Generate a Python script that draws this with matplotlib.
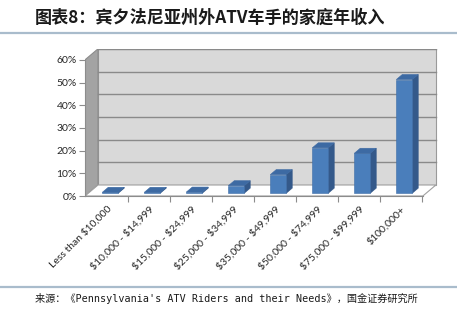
import matplotlib
matplotlib.use("Agg")
import matplotlib.pyplot as plt
from matplotlib.patches import Polygon
from matplotlib.lines import Line2D
import numpy as np

categories = ["Less than $10,000", "$10,000 - $14,999", "$15,000 - $24,999",
              "$25,000 - $34,999", "$35,000 - $49,999", "$50,000 - $74,999",
              "$75,000 - $99,999", "$100,000+"]
values = [0.4, 0.4, 0.5, 3.3, 8.2, 20.0, 17.6, 50.1]
yticks = [0, 10, 20, 30, 40, 50, 60]
ytick_labels = ["0%", "10%", "20%", "30%", "40%", "50%", "60%"]
title = "图表8：宾夕法尼亚州外ATV车手的家庭年收入"
source = "来源：《Pennsylvania's ATV Riders and their Needs》，国金证券研究所"

W, H = 457, 316
fig = plt.figure(figsize=(W / 100, H / 100), dpi=100)

# pseudo-3D geometry (data units)
ddx, ddy = 0.31, 4.85     # full depth offset
d0, d1 = 0.25, 0.71       # bar depth span
bw = 0.38
xl, xr = -0.524, 7.52     # front plane extent
ymax = 60
x0, x1 = xl, 7.9
y0, y1 = 0, 65

ax = fig.add_axes([85 / W, (H - 196) / H, (107 + 42 * x1 - 85) / W, 147.5 / H])
ax.set_xlim(x0, x1)
ax.set_ylim(y0, y1)
ax.set_facecolor("none")

# back wall
ax.add_patch(Polygon([(xl + ddx, ddy), (xr + ddx, ddy), (xr + ddx, ymax + ddy), (xl + ddx, ymax + ddy)],
                     closed=True, facecolor="#d9d9d9", edgecolor="#9a9a9a", lw=0.8, zorder=1))
# side wall
ax.add_patch(Polygon([(xl, 0), (xl + ddx, ddy), (xl + ddx, ymax + ddy), (xl, ymax)],
                     closed=True, facecolor="#a3a3a3", edgecolor="#8c8c8c", lw=0.8, zorder=1))
# gridlines
for v in yticks[1:]:
    ax.plot([xl + ddx, xr + ddx], [v + ddy, v + ddy], color="#8a8a8a", lw=1.0, zorder=2)
# floor
ax.add_patch(Polygon([(xl, 0), (xr, 0), (xr + ddx, ddy), (xl + ddx, ddy)],
                     closed=True, facecolor="white", edgecolor="#a0a0a0", lw=0.8, zorder=2))

# bars
xs = np.arange(len(categories))
front = ax.bar(xs + d0 * ddx, values, width=bw, bottom=d0 * ddy,
               color="#4a7ebb", edgecolor="#3f6ea8", lw=0.4, zorder=5)
sx, sy = (d1 - d0) * ddx, (d1 - d0) * ddy
for rect in front:
    bx, by = rect.get_x(), rect.get_y()
    w, h = rect.get_width(), rect.get_height()
    top = by + h
    ax.add_patch(Polygon([(bx + w, by), (bx + w + sx, by + sy), (bx + w + sx, top + sy), (bx + w, top)],
                         closed=True, facecolor="#34598a", edgecolor="#34598a", lw=0.4, zorder=4))
    ax.add_patch(Polygon([(bx, top), (bx + w, top), (bx + w + sx, top + sy), (bx + sx, top + sy)],
                         closed=True, facecolor="#3d6aa3", edgecolor="#3d6aa3", lw=0.4, zorder=6))

# axes styling
for s in ["top", "right"]:
    ax.spines[s].set_visible(False)
ax.spines["left"].set_bounds(0, ymax)
ax.spines["bottom"].set_bounds(xl, xr)
ax.spines["left"].set_color("#8c8c8c")
ax.spines["bottom"].set_color("#8c8c8c")
ax.spines["left"].set_zorder(3)
ax.spines["bottom"].set_zorder(3)

ax.set_yticks(yticks)
ax.set_yticklabels(ytick_labels, fontsize=7.5, color="#262626", family="Lato")
ax.tick_params(axis="y", length=4, width=0.8, color="#8c8c8c", pad=2)

ax.set_xticks(xs)
ax.set_xticklabels(categories, rotation=45, ha="right", rotation_mode="anchor",
                   fontsize=7.5, color="#262626", family="Lato", parse_math=False)
ax.tick_params(axis="x", which="major", length=0, pad=6)
ax.set_xticks(list(xs + 0.5), minor=True)
ax.tick_params(axis="x", which="minor", length=4, width=0.8, color="#8c8c8c")

# title, rules, source
fig.text(35 / W, 1 - 18 / H, title, fontsize=12.3, fontweight="bold",
         family=["Noto Sans CJK SC", "DejaVu Sans"], color="#1a1a1a", va="center", ha="left")
fig.add_artist(Line2D([0, 1], [1 - 33 / H, 1 - 33 / H], color="#a9bccc", lw=1.6))
fig.add_artist(Line2D([0, 1], [1 - 287 / H, 1 - 287 / H], color="#a9bccc", lw=1.6))
fig.text(35 / W, 1 - 298 / H, source, fontsize=7.3,
         family=["DejaVu Sans Mono", "Noto Sans CJK SC"], color="#1a1a1a", va="center", ha="left")

fig.savefig("out.png", dpi=100)
